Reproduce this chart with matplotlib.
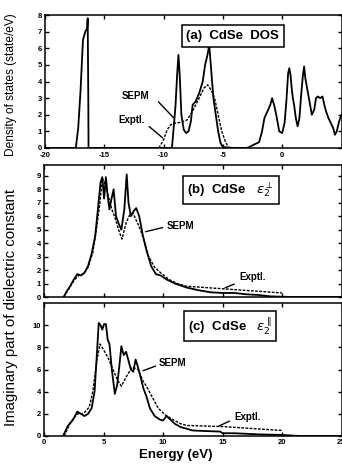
import matplotlib
matplotlib.use("Agg")
import matplotlib.pyplot as plt

plt.rcParams['font.family'] = ['Liberation Sans', 'DejaVu Sans']
plt.rcParams['mathtext.fontset'] = 'dejavusans'

# ========== DATA ==========

# (a) density of states, energy in eV
dos_e_sepm = [-20, -17.4, -17.2, -17.0, -16.8, -16.6, -16.45, -16.4, -16.35, -16.33,
              -9.3, -9.2, -9.0, -8.85, -8.75, -8.65, -8.5, -8.3, -8.1, -7.9,
              -7.7, -7.55, -7.3, -7.0, -6.7, -6.5, -6.3, -6.15, -6.0, -5.8,
              -5.6, -5.4, -5.2, -5.0, -4.0, -3.0, -2.8, -2.4, -1.95, -1.7,
              -1.5, -1.25, -1.0, -0.85, -0.65, -0.45, -0.25, 0.0, 0.2, 0.35,
              0.5, 0.6, 0.7, 0.8, 0.9, 1.0, 1.15, 1.3, 1.45, 1.6,
              1.75, 1.85, 1.95, 2.1, 2.3, 2.5, 2.7, 2.85, 3.0, 3.2,
              3.4, 3.55, 3.7, 3.9, 4.1, 4.3, 4.45, 4.6, 4.8, 5.0]
dos_sepm = [0, 0, 1.2, 3.5, 6.5, 7.0, 7.2, 7.8, 3, 0,
            0, 0.8, 2.5, 4.5, 5.6, 4.5, 2.0, 1.1, 0.9, 1.0,
            1.6, 2.6, 2.8, 3.3, 4.0, 5.0, 5.6, 6.2, 4.8, 3.0,
            2.0, 1.0, 0.3, 0.05, 0, 0, 0.05, 0.2, 0.35, 1.0,
            1.8, 2.2, 2.6, 3.0, 2.5, 1.8, 1.0, 0.9, 1.5, 2.8,
            4.5, 4.8, 4.4, 3.6, 3.0, 2.6, 1.8, 1.3, 1.8, 3.2,
            4.4, 4.9, 4.2, 3.6, 2.8, 2.0, 2.3, 3.0, 3.1, 3.0,
            3.1, 2.6, 2.2, 1.8, 1.5, 1.2, 0.8, 1.0, 1.6, 2.0]
dos_e_expt = [-10.4, -10.0, -9.7, -9.4, -9.0, -8.5, -8.0, -7.5, -7.0, -6.6,
              -6.3, -6.0, -5.7, -5.4, -5.1, -4.8, -4.5]
dos_expt = [0, 0.5, 1.1, 1.4, 1.5, 1.55, 1.7, 2.3, 3.0, 3.6,
            3.8, 3.5, 3.0, 2.0, 1.0, 0.4, 0]

# (b) eps2 perpendicular
perp_e_sepm = [1.65, 1.9, 2.2, 2.5, 2.8, 3.1, 3.4, 3.7, 4.0, 4.3,
               4.55, 4.75, 4.9, 5.05, 5.2, 5.35, 5.5, 5.65, 5.85, 6.05,
               6.3, 6.5, 6.75, 6.95, 7.1, 7.3, 7.55, 7.75, 8.0, 8.3,
               8.6, 9.0, 9.4, 9.8, 10.3, 11.0, 12.0, 13.0, 14.0, 15.0,
               16.0, 17.0, 18.0, 19.0, 20.0, 21.0, 25.0]
perp_sepm = [0, 0.4, 0.8, 1.3, 1.7, 1.6, 1.8, 2.3, 3.2, 4.5,
             6.7, 8.5, 8.9, 7.3, 8.9, 7.5, 6.5, 7.2, 8.0, 6.0,
             5.4, 5.0, 6.5, 9.1, 7.0, 6.0, 6.4, 6.6, 6.0, 4.6,
             3.5, 2.3, 1.7, 1.6, 1.3, 1.0, 0.7, 0.5, 0.35, 0.3,
             0.3, 0.2, 0.15, 0.05, 0.02, 0, 0]
perp_e_expt = [1.65, 2.0, 2.5, 2.9, 3.3, 3.7, 4.1, 4.4, 4.7, 4.9,
               5.1, 5.4, 5.7, 6.0, 6.3, 6.55, 6.9, 7.2, 7.5, 7.8,
               8.1, 8.4, 8.8, 9.3, 9.8, 10.5, 11.2, 12.0, 20.0]
perp_expt = [0, 0.5, 1.2, 1.6, 1.7, 2.2, 3.3, 5.0, 7.0, 8.8,
             8.5, 7.5, 6.5, 5.8, 4.9, 4.3, 5.5, 6.1, 6.2, 5.6,
             5.0, 4.2, 3.0, 2.2, 1.8, 1.3, 1.0, 0.8, 0.3]

# (c) eps2 parallel
par_e_sepm = [1.6, 2.0, 2.4, 2.8, 3.1, 3.4, 3.7, 4.0, 4.25, 4.45,
              4.6, 4.75, 4.9, 5.05, 5.2, 5.35, 5.5, 5.7, 5.95, 6.15,
              6.35, 6.5, 6.7, 6.9, 7.1, 7.3, 7.5, 7.7, 7.9, 8.1,
              8.35, 8.6, 8.9, 9.3, 9.7, 10.0, 10.3, 10.6, 11.0, 11.5,
              12.5, 13.5, 14.8, 15.0, 16.0, 17.0, 18.0, 19.0, 20.0, 21.0,
              21.5, 25.0]
par_sepm = [0, 0.9, 1.4, 2.2, 2.0, 1.8, 2.0, 2.5, 4.0, 7.5,
            10.2, 10.0, 9.6, 10.1, 10.1, 8.7, 8.3, 6.0, 3.8, 4.6,
            6.5, 8.1, 7.3, 7.6, 6.8, 6.0, 5.8, 6.9, 6.2, 5.4,
            4.3, 3.6, 2.5, 1.8, 1.5, 1.4, 1.8, 1.5, 1.1, 0.8,
            0.5, 0.45, 0.4, 0.25, 0.25, 0.2, 0.15, 0.12, 0.1, 0.03,
            0, 0]
par_e_expt = [1.7, 2.2, 2.8, 3.3, 3.8, 4.1, 4.4, 4.7, 5.0, 5.4,
              5.8, 6.2, 6.5, 7.0, 7.4, 7.9, 8.3, 8.6, 9.1, 9.6,
              10.2, 10.8, 11.5, 12.0, 15.0, 20.0]
par_expt = [0, 1.2, 2.0, 2.0, 2.6, 4.0, 6.5, 8.3, 7.8, 7.0,
            6.0, 5.0, 4.5, 5.5, 6.2, 6.0, 5.0, 4.5, 3.5, 2.5,
            1.9, 1.5, 1.1, 0.95, 0.85, 0.5]

panel_titles = ["(a)  CdSe  DOS",
                r"(b)  CdSe   $\epsilon_2^{\perp}$",
                r"(c)  CdSe   $\epsilon_2^{\parallel}$"]

# ========== FIGURE ==========

fig = plt.figure(figsize=(3.42, 4.70), dpi=100)
W, H = 342.0, 470.0


def make_axes(left, top, right, bottom):
    return fig.add_axes([left / W, 1 - bottom / H, (right - left) / W, (bottom - top) / H])


ax_a = make_axes(45, 15, 341.5, 148)
ax_b = make_axes(44, 165, 341.5, 297)
ax_c = make_axes(44, 303, 341.5, 436)

solid = dict(color='black', lw=1.3)
dashed = dict(color='black', lw=1.0, linestyle=(0, (2.0, 1.0)))

ax_a.plot(dos_e_sepm, dos_sepm, **solid)
ax_a.plot(dos_e_expt, dos_expt, **dashed)
ax_b.plot(perp_e_sepm, perp_sepm, **solid)
ax_b.plot(perp_e_expt, perp_expt, **dashed)
ax_c.plot(par_e_sepm, par_sepm, **solid)
ax_c.plot(par_e_expt, par_expt, **dashed)

ax_a.set_xlim(-20, 5)
ax_a.set_ylim(0, 8)
ax_a.set_xticks([-20, -15, -10, -5, 0, 5])
ax_a.set_xticklabels(['-20', '-15', '-10', '-5', '0', ''])
ax_a.set_yticks(range(0, 9))

ax_b.set_xlim(0, 25)
ax_b.set_ylim(0, 9.8)
ax_b.set_xticks([0, 5, 10, 15, 20, 25])
ax_b.set_xticklabels([])
ax_b.set_yticks(range(0, 10))

ax_c.set_xlim(0, 25)
ax_c.set_ylim(0, 12)
ax_c.set_xticks([0, 5, 10, 15, 20, 25])
ax_c.set_yticks([0, 2, 4, 6, 8, 10])

for ax in (ax_a, ax_b, ax_c):
    ax.tick_params(direction='in', top=True, right=True, length=3, width=1,
                   labelsize=5.5, pad=2)
    for lab in ax.get_xticklabels() + ax.get_yticklabels():
        lab.set_fontweight('bold')
    for sp in ax.spines.values():
        sp.set_linewidth(1.1)
ax_a.tick_params(axis='x', pad=3)

box = dict(boxstyle='square,pad=0.35', facecolor='white', edgecolor='black', lw=1.1)
ax_a.text(0.633, 0.842, panel_titles[0], transform=ax_a.transAxes, ha='center', va='center',
          fontsize=9.5, fontweight='bold', bbox=box)
ax_b.text(0.628, 0.81, panel_titles[1], transform=ax_b.transAxes, ha='center', va='center',
          fontsize=9.5, fontweight='bold', bbox=box)
ax_c.text(0.625, 0.827, panel_titles[2], transform=ax_c.transAxes, ha='center', va='center',
          fontsize=9.5, fontweight='bold', bbox=box)

# curve labels with leader lines
lead = dict(arrowstyle='-', color='black', lw=1.0)
labels = [
    (ax_a, "SEPM", (-12.35, 3.1), (-10.6, 2.9), (-9.0, 1.7)),
    (ax_a, "Exptl.", (-12.7, 1.7), (-11.4, 1.4), (-9.9, 0.5)),
    (ax_b, "SEPM", (11.5, 5.3), (10.2, 5.2), (8.3, 4.8)),
    (ax_b, "Exptl.", (17.5, 1.5), (16.2, 1.04), (15.0, 0.6)),
    (ax_c, "SEPM", (10.8, 6.6), (9.6, 6.4), (8.1, 5.8)),
    (ax_c, "Exptl.", (17.1, 1.7), (15.8, 1.45), (14.5, 0.8)),
]
for ax, txt, tpos, start, end in labels:
    ax.text(tpos[0], tpos[1], txt, ha='center', va='center', fontsize=7, fontweight='bold')
    ax.annotate('', xy=end, xytext=start, arrowprops=lead)

fig.text(11 / W, 1 - 85 / H, "Density of states (state/eV)", rotation=90,
         ha='center', va='center', fontsize=8.6)
fig.text(11 / W, 1 - 307 / H, "Imaginary part of dielectric constant", rotation=90,
         ha='center', va='center', fontsize=10.8)
fig.text(176 / W, 1 - 455 / H, "Energy (eV)", ha='center', va='center',
         fontsize=9.5, fontweight='bold')

fig.savefig("out.png", dpi=100)
